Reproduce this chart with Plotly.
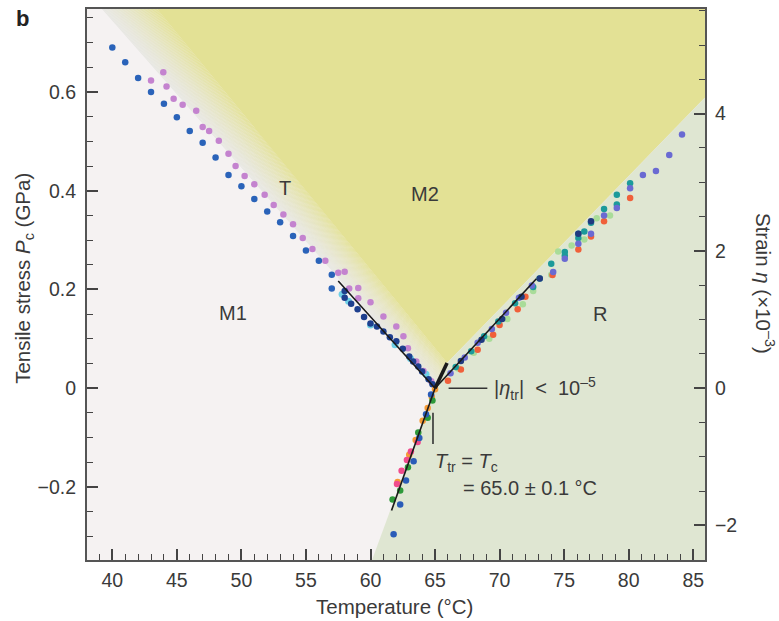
import plotly.graph_objects as go

# ---- Measured transition data: temperature (°C) vs tensile stress P_c (GPa) ----
# M1 -> T branch (left)
left_blue_T = [40, 41, 42, 43, 44, 45, 46, 47, 48, 49, 50, 51, 52, 53, 54, 55, 56, 57, 57]
left_blue_P = [0.690, 0.660, 0.628, 0.600, 0.576, 0.549, 0.521, 0.497, 0.467, 0.432, 0.409,
               0.383, 0.358, 0.336, 0.308, 0.279, 0.258, 0.230, 0.202]

left_navy_T = [58.0, 58.0, 58.5, 59.0, 59.5, 60.0, 60.5, 61.0, 61.5, 62.0, 62.5, 63.0, 63.3,
               63.7, 64.0, 64.5, 64.8]
left_navy_P = [0.197, 0.183, 0.171, 0.160, 0.144, 0.131, 0.125, 0.115, 0.103, 0.095, 0.080,
               0.064, 0.054, 0.044, 0.034, 0.018, 0.008]

left_cyan_T = [57.8, 58.3, 60.0, 61.9, 63.1, 64.3]
left_cyan_P = [0.190, 0.176, 0.128, 0.088, 0.060, 0.028]

left_purple_T = [43.0, 43.95, 44.2, 44.75, 45.45, 46.5, 47.0, 47.5, 48.25, 49.0, 49.55, 50.25,
                 51.0, 51.8, 52.5, 53.25, 54.0, 54.75, 55.5, 56.5, 57.5, 58.0, 58.35, 59.05,
                 59.05, 60.0, 61.0, 62.0, 62.55, 62.9, 63.55, 64.1, 64.7]
left_purple_P = [0.623, 0.640, 0.611, 0.586, 0.574, 0.562, 0.529, 0.521, 0.501, 0.475, 0.450,
                 0.430, 0.413, 0.392, 0.371, 0.352, 0.332, 0.304, 0.282, 0.258, 0.234, 0.236,
                 0.202, 0.203, 0.182, 0.174, 0.145, 0.125, 0.105, 0.081, 0.054, 0.035, 0.014]

# M2 -> R branch (right)
right_violet_T = [66.2, 67.3, 68.3, 69.4, 70.5, 71.5, 72.5, 74.15, 75.05, 76.1, 77.08, 78.09,
                  79.08, 80.11, 81.1, 82.11, 83.14, 84.13]
right_violet_P = [0.030, 0.062, 0.092, 0.120, 0.153, 0.183, 0.208, 0.2355, 0.262, 0.2925, 0.313,
                  0.350, 0.365, 0.405, 0.432, 0.440, 0.4725, 0.514]

right_teal_T = [66.6, 67.8, 68.8, 69.9, 71.2, 72.6, 73.1, 74.0, 75.05, 75.05, 76.1, 76.1, 76.56,
                77.08, 78.09, 79.08, 79.08, 80.11]
right_teal_P = [0.043, 0.075, 0.105, 0.135, 0.172, 0.205, 0.222, 0.252, 0.276, 0.268, 0.313,
                0.304, 0.3175, 0.335, 0.363, 0.392, 0.372, 0.415]

right_red_T = [66.0, 67.0, 68.3, 69.5, 70.0, 71.4, 72.0, 74.1, 76.1, 77.08, 78.09, 80.11]
right_red_P = [0.015, 0.038, 0.078, 0.108, 0.128, 0.160, 0.185, 0.229, 0.281, 0.307, 0.338, 0.385]

right_lime_T = [66.8, 68.0, 69.2, 70.6, 71.8, 72.6, 74.0, 74.54, 75.58, 76.56, 77.52, 78.55]
right_lime_P = [0.040, 0.072, 0.100, 0.140, 0.170, 0.197, 0.230, 0.277, 0.289, 0.301, 0.344, 0.350]

right_navy_T = [67.0, 68.6, 70.2, 71.7, 73.11, 76.1, 77.08]
right_navy_P = [0.055, 0.098, 0.140, 0.185, 0.222, 0.313, 0.338]

# M1 -> R branch (lower, compressive side)
low_blue_T = [61.79, 62.3, 62.75, 63.34, 63.78, 64.3, 64.69]
low_blue_P = [-0.296, -0.2355, -0.187, -0.148, -0.101, -0.053, -0.013]
low_green_T = [61.71, 62.3, 62.9, 63.7, 64.43, 64.8]
low_green_P = [-0.2255, -0.207, -0.160, -0.090, -0.060, -0.025]
low_pink_T = [62.05, 62.41, 62.82, 63.13, 63.65]
low_pink_P = [-0.194, -0.167, -0.1455, -0.128, -0.109]
low_orange_T = [62.1, 63.0, 63.5, 64.04, 64.43, 64.75, 65.0]
low_orange_P = [-0.19, -0.135, -0.105, -0.066, -0.040, -0.018, -0.002]

# Linear fits through the triple point
fit_left = ([57.5, 65.0], [0.217, 0.0])
fit_right = ([65.0, 72.85], [0.0, 0.2215])
fit_low = ([61.63, 65.0], [-0.2476, 0.0])
tr_edge = ([65.0, 65.93], [0.0, 0.051])

# Axis ranges and the strain scale (1e-3 strain per 0.139 GPa)
x_range = [38.04, 85.91]
y_range = [-0.348, 0.768]
gpa_per_strain = 0.139
y2_range = [y_range[0] / gpa_per_strain, y_range[1] / gpa_per_strain]

# Phase boundaries (T, P)
m1_edge_top = (39.2, y_range[1])
m2_edge_top = (43.46, y_range[1])
triple = (65.0, 0.0)
m2_tip = (65.93, 0.051)
r_m2_slope = 0.0269
r_low_bottom = (60.12, y_range[0])

C_M1 = (245, 242, 242)
C_M2 = (227, 225, 149)
C_R = (223, 230, 210)
C_T0 = (231, 231, 226)

def rgb(c):
    return "rgb(%d,%d,%d)" % tuple(int(round(v)) for v in c)

def poly(pts):
    return "M " + " L ".join("%.4f,%.4f" % p for p in pts) + " Z"

shapes = []
xr = x_range[1]
r_top = (xr, m2_tip[1] + r_m2_slope * (xr - m2_tip[0]))
# M2 region
shapes.append(dict(type="path", xref="x", yref="y", layer="below", line=dict(width=0),
                   fillcolor=rgb(C_M2),
                   path=poly([m2_edge_top, (xr, y_range[1]), r_top, m2_tip])))
# R region
shapes.append(dict(type="path", xref="x", yref="y", layer="below", line=dict(width=0),
                   fillcolor=rgb(C_R),
                   path=poly([triple, m2_tip, r_top, (xr, y_range[0]), r_low_bottom])))
# T region: graded wedge between the M1 and M2 boundaries
n = 40
for i in range(n):
    f0, f1 = i / n, (i + 1) / n
    def lerp(a, b, f):
        return (a[0] + (b[0] - a[0]) * f, a[1] + (b[1] - a[1]) * f)
    pts = [lerp(m1_edge_top, m2_edge_top, f0), lerp(m1_edge_top, m2_edge_top, f1 + 0.002),
           lerp(triple, m2_tip, f1 + 0.002), lerp(triple, m2_tip, f0)]
    fm = ((f0 + f1) / 2) ** 1.35
    col = tuple(C_T0[k] + (C_M2[k] - C_T0[k]) * fm for k in range(3))
    shapes.append(dict(type="path", xref="x", yref="y", layer="below", line=dict(width=0),
                       fillcolor=rgb(col), path=poly(pts)))

# Pointer lines for the annotations
shapes.append(dict(type="line", xref="x", yref="y", x0=66.05, x1=69.05, y0=0.0, y1=0.0,
                   line=dict(color="#333333", width=1.6)))
shapes.append(dict(type="line", xref="x", yref="y", x0=64.84, x1=64.84, y0=-0.05, y1=-0.113,
                   line=dict(color="#333333", width=1.6)))

fig = go.Figure()

def dots(T, P, color, size=6.5):
    fig.add_trace(go.Scatter(x=T, y=P, mode="markers", showlegend=False, hoverinfo="skip",
                             marker=dict(color=color, size=size, line=dict(width=0))))

dots(left_cyan_T, left_cyan_P, "#6fd0e6", 7)
dots(left_blue_T, left_blue_P, "#2a63b9")
dots(left_purple_T, left_purple_P, "#c483cf")
dots(left_navy_T, left_navy_P, "#1e3f8e")
dots(right_lime_T, right_lime_P, "#a9dc99")
dots(right_red_T, right_red_P, "#f0603a")
dots(right_teal_T, right_teal_P, "#1c9a9a")
dots(right_violet_T, right_violet_P, "#6a6ad2")
dots(right_navy_T, right_navy_P, "#203a80")
dots(low_orange_T, low_orange_P, "#f59b35")
dots(low_pink_T, low_pink_P, "#f04c8c")
dots(low_green_T, low_green_P, "#2e9a3a")
dots(low_blue_T, low_blue_P, "#2a5cb8")

for (fx, fy), w in [(fit_left, 1.6), (fit_right, 1.6), (fit_low, 1.6), (tr_edge, 3.6)]:
    fig.add_trace(go.Scatter(x=fx, y=fy, mode="lines", showlegend=False, hoverinfo="skip",
                             line=dict(color="#1a1a1a", width=w)))

# Strain axis carrier
fig.add_trace(go.Scatter(x=[x_range[0]], y=[0], yaxis="y2", mode="markers",
                         marker=dict(opacity=0), showlegend=False, hoverinfo="skip"))

FONT = "Liberation Sans, Arial, Helvetica, sans-serif"
TXT = "#3a3a3a"
tick_font = dict(family=FONT, size=19.5, color=TXT)

axis_common = dict(showgrid=False, zeroline=False, showline=True, linecolor="#555555",
                   linewidth=2, ticks="inside", tickcolor="#444444", tickwidth=1.5,
                   ticklen=11, tickfont=tick_font)

fig.update_layout(
    width=779, height=621,
    margin=dict(l=87, r=74, t=7, b=61),
    paper_bgcolor="white",
    plot_bgcolor=rgb(C_M1),
    shapes=shapes,
    xaxis=dict(range=x_range, dtick=5, tick0=40, mirror=True, ticklabelstandoff=2,
               minor=dict(dtick=1, ticks="inside", ticklen=6, tickcolor="#444444", tickwidth=1.3),
               **axis_common),
    yaxis=dict(range=y_range, dtick=0.2, tick0=0, ticklabelstandoff=5,
               minor=dict(dtick=0.05, ticks="inside", ticklen=6, tickcolor="#444444", tickwidth=1.3),
               **axis_common),
    yaxis2=dict(range=y2_range, dtick=2, tick0=0, overlaying="y", side="right",
                ticklabelstandoff=4,
                minor=dict(dtick=0.5, ticks="inside", ticklen=6, tickcolor="#444444", tickwidth=1.3),
                **axis_common),
)

def label(text, x, y, size=20, xanchor="center"):
    fig.add_annotation(text=text, x=x, y=y, xref="x", yref="y", showarrow=False,
                       xanchor=xanchor, yanchor="middle",
                       font=dict(family=FONT, size=size, color=TXT))

label("T", 53.38, 0.405)
label("M2", 64.21, 0.394)
label("M1", 49.35, 0.152)
label("R", 77.76, 0.150)
label("|<i>η</i><sub>tr</sub>|  <  10<sup>–5</sup>", 69.4, 0.0, xanchor="left")
label("<i>T</i><sub>tr</sub> = <i>T</i><sub>c</sub>", 64.84, -0.151, xanchor="left")
label("= 65.0 ± 0.1 °C", 67.02, -0.203, xanchor="left")

def paper_text(text, x, y, angle=0, size=20.5, bold=False):
    fig.add_annotation(text="<b>%s</b>" % text if bold else text, x=x, y=y,
                       xref="paper", yref="paper", showarrow=False, textangle=angle,
                       xanchor="center", yanchor="middle",
                       font=dict(family=FONT, size=size, color="#222222" if bold else TXT))

paper_text("Temperature (°C)", 0.497, -0.085)
paper_text("Tensile stress <i>P</i><sub>c</sub> (GPa)", -0.102, 0.512, angle=-90)
paper_text("Strain <i>η</i> (×10<sup>–3</sup>)", 1.097, 0.501, angle=90)
paper_text("b", -0.1036, 0.982, size=22, bold=True)

fig.write_html("out.html")
